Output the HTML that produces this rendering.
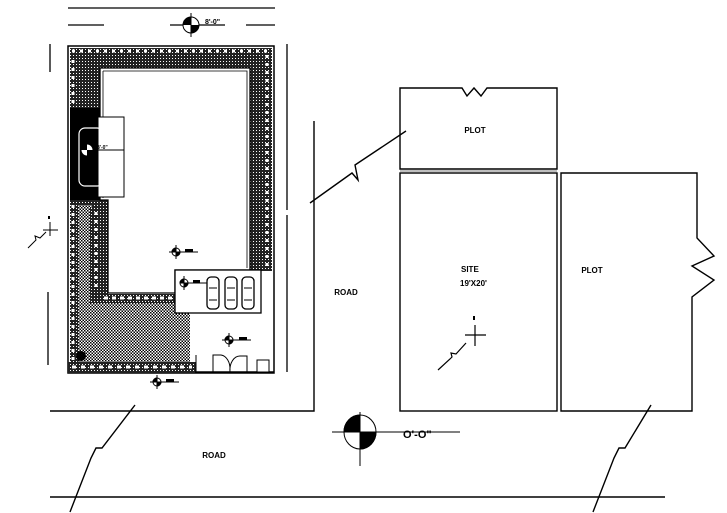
<!DOCTYPE html>
<html><head><meta charset="utf-8"><style>
html,body{margin:0;padding:0;background:#fff;}
svg{display:block;}
text{font-family:"Liberation Sans",sans-serif;font-weight:bold;}
</style></head><body>
<svg width="727" height="513" viewBox="0 0 727 513" xmlns="http://www.w3.org/2000/svg">
<defs>
<pattern id="chk" width="3" height="3" patternUnits="userSpaceOnUse">
<rect width="3" height="3" fill="#fff"/><rect width="1.5" height="1.5" fill="#000"/><rect x="1.5" y="1.5" width="1.5" height="1.5" fill="#000"/>
</pattern>
<pattern id="dk" width="3" height="3" patternUnits="userSpaceOnUse">
<rect width="3" height="3" fill="#222"/><rect x="1" y="1" width="1" height="1" fill="#fff"/>
</pattern>
</defs>
<g stroke="#000" fill="none" stroke-width="1.3">
<line x1="68" y1="8" x2="275" y2="8"/>
<line x1="68" y1="25" x2="104" y2="25"/><line x1="246" y1="25" x2="275" y2="25"/>
<line x1="170" y1="25" x2="225" y2="25"/>
<line x1="50" y1="44" x2="50" y2="72"/>
<line x1="287" y1="44" x2="287" y2="210"/>
<line x1="48" y1="292" x2="48" y2="365"/>
<line x1="287" y1="215" x2="287" y2="372"/>
</g>
<g transform="translate(191,25)">
<circle r="8" fill="#fff" stroke="#000"/>
<path d="M0,-8 A8,8 0 0,0 -8,0 L0,0Z" fill="#000"/>
<path d="M0,8 A8,8 0 0,0 8,0 L0,0Z" fill="#000"/>
<line x1="0" y1="-12" x2="0" y2="12" stroke="#000"/>
</g>
<text x="205" y="24" font-size="7">8'-0"</text>

<rect x="68" y="46" width="206" height="327" fill="#fff" stroke="#000" stroke-width="1.5"/>
<rect x="70" y="48" width="202" height="20" fill="url(#dk)"/>
<rect x="70" y="48" width="30" height="62" fill="url(#dk)"/>
<rect x="250" y="48" width="22" height="223" fill="url(#dk)"/>
<rect x="70" y="108" width="30" height="92" fill="#000"/>
<g stroke="#fff" stroke-width="3" stroke-dasharray="3 5">
<line x1="72" y1="51" x2="272" y2="51"/>
<line x1="73" y1="60" x2="73" y2="105"/>
<line x1="267" y1="55" x2="267" y2="270"/>
</g>
<!-- lower-left garden -->
<rect x="70" y="200" width="38" height="173" fill="url(#dk)"/>
<rect x="78" y="205" width="14" height="157" fill="url(#chk)"/>
<rect x="78" y="300" width="112" height="62" fill="url(#chk)"/>
<rect x="90" y="208" width="13" height="88" fill="url(#dk)"/>
<g stroke="#fff" stroke-width="3" stroke-dasharray="3 5">
<line x1="73" y1="205" x2="73" y2="368"/>
<line x1="96" y1="212" x2="96" y2="292"/>
</g>
<!-- inner room -->
<path d="M100,68 H250 V270 H175 V293 H108 V200 H100 Z" fill="#fff" stroke="#000" stroke-width="1.3"/>
<path d="M103,71 H247 V268" fill="none" stroke="#000" stroke-width="0.8"/>
<line x1="103" y1="71" x2="103" y2="198" stroke="#000" stroke-width="0.8"/>
<rect x="90" y="294" width="86" height="9" fill="url(#dk)"/>
<line x1="104" y1="298" x2="174" y2="298" stroke="#fff" stroke-width="3" stroke-dasharray="4 4"/>
<!-- tank box -->
<rect x="98" y="117" width="26" height="80" fill="#fff" stroke="#000"/>
<rect x="79" y="128" width="24" height="58" rx="6" fill="none" stroke="#fff" stroke-width="1.2"/>
<line x1="80" y1="150" x2="124" y2="150" stroke="#000"/>
<g transform="translate(87,150)"><circle r="6" fill="#fff" stroke="#000"/><path d="M0,-6 A6,6 0 0,0 -6,0 L0,0Z"/><path d="M0,6 A6,6 0 0,0 6,0 L0,0Z"/></g>
<text x="97" y="149" font-size="5">8'-0"</text>
<rect x="68" y="362" width="128" height="11" fill="url(#dk)"/>
<line x1="72" y1="367" x2="192" y2="367" stroke="#fff" stroke-width="3" stroke-dasharray="4 5"/>
<circle cx="81" cy="356" r="5" fill="#000"/>
<line x1="195" y1="372" x2="274" y2="372" stroke="#000" stroke-width="1.5"/>
<line x1="196" y1="355" x2="196" y2="373" stroke="#000"/>
<path d="M213,372 V355 H221 A10,14 0 0,1 230,370 M230,372 A10,14 0 0,1 240,356 H247 V372" fill="none" stroke="#000"/>
<rect x="257" y="360" width="12" height="12" fill="#fff" stroke="#000"/>
<!-- parking box -->
<rect x="175" y="270" width="86" height="43" fill="#fff" stroke="#000" stroke-width="1.3"/>
<g fill="#fff" stroke="#000" stroke-width="1.3">
<rect x="207" y="277" width="12" height="32" rx="4"/>
<rect x="225" y="277" width="12" height="32" rx="4"/>
<rect x="242" y="277" width="12" height="32" rx="4"/>
</g>
<g stroke="#000" stroke-width="1"><line x1="209" y1="288" x2="217" y2="288"/><line x1="227" y1="288" x2="235" y2="288"/><line x1="244" y1="288" x2="252" y2="288"/>
<line x1="209" y1="300" x2="217" y2="300"/><line x1="227" y1="300" x2="235" y2="300"/><line x1="244" y1="300" x2="252" y2="300"/>
<line x1="184" y1="283" x2="207" y2="283"/></g>
<g stroke="#000" stroke-width="1">
<g transform="translate(184,283)"><circle r="4" fill="#fff"/><path d="M0,-4 A4,4 0 0,0 -4,0 L0,0Z" fill="#000"/><path d="M0,4 A4,4 0 0,0 4,0 L0,0Z" fill="#000"/><line y1="-7" y2="7"/></g>
<g transform="translate(176,252)"><circle r="4" fill="#fff"/><path d="M0,-4 A4,4 0 0,0 -4,0 L0,0Z" fill="#000"/><path d="M0,4 A4,4 0 0,0 4,0 L0,0Z" fill="#000"/><line y1="-7" y2="7"/><line x1="-7" x2="22"/></g>
<g transform="translate(229,340)"><circle r="4" fill="#fff"/><path d="M0,-4 A4,4 0 0,0 -4,0 L0,0Z" fill="#000"/><path d="M0,4 A4,4 0 0,0 4,0 L0,0Z" fill="#000"/><line y1="-7" y2="7"/><line x1="-7" x2="22"/></g>
<g transform="translate(157,382)"><circle r="4" fill="#fff"/><path d="M0,-4 A4,4 0 0,0 -4,0 L0,0Z" fill="#000"/><path d="M0,4 A4,4 0 0,0 4,0 L0,0Z" fill="#000"/><line y1="-7" y2="7"/><line x1="-7" x2="22"/></g>
</g>
<g fill="#000"><rect x="185" y="249" width="8" height="3"/><rect x="193" y="280" width="7" height="3"/><rect x="239" y="337" width="8" height="3"/><rect x="166" y="379" width="8" height="3"/></g>
<g stroke="#000" stroke-width="1"><line x1="43" y1="230" x2="58" y2="230"/><line x1="50" y1="222" x2="50" y2="236"/>
<path d="M28,248 L36,240 L35,236 L40,238 L46,232" fill="none"/></g>
<rect x="48" y="216" width="2" height="3" fill="#000"/>

<g stroke="#000" fill="none" stroke-width="1.4">
<path d="M314,121 V411 H50"/>
<line x1="50" y1="497" x2="665" y2="497"/>
<path d="M135,405 L102,448 L96,448 L91,458 L70,512"/>
<path d="M651,405 L625,448 L619,448 L614,458 L593,512"/>
<path d="M310,203 L352,173 L358,180 L355,165 L406,131"/>
<path d="M400,88 H462 L467,96 L474,88 L481,96 L487,88 H557 V169 H400 Z"/>
<rect x="400" y="173" width="157" height="238"/>
<path d="M561,173 H697 V238 L714,256 L692,266 L714,280 L692,297 V411 H561 Z"/>
<line x1="400" y1="171" x2="557" y2="171" stroke-width="0.6"/>
</g>
<g stroke="#000" stroke-width="1.2" fill="none"><line x1="465" y1="335" x2="486" y2="335"/><line x1="475" y1="325" x2="475" y2="346"/>
<path d="M438,370 L450,359 L452,357 L451,353 L456,354 L466,343"/></g>
<rect x="473" y="316" width="2" height="4" fill="#000"/>
<text x="475" y="133" font-size="8" text-anchor="middle">PLOT</text>
<text x="592" y="273" font-size="8" text-anchor="middle">PLOT</text>
<text x="461" y="272" font-size="8">SITE</text>
<text x="460" y="286" font-size="8" font-weight="normal">19'X20'</text>
<text x="346" y="295" font-size="8" text-anchor="middle">ROAD</text>
<text x="214" y="458" font-size="8" text-anchor="middle">ROAD</text>
<g transform="translate(360,432)" stroke="#000">
<ellipse rx="16" ry="17" fill="#fff" stroke-width="1"/>
<path d="M0,-17 A16,17 0 0,0 -16,0 L0,0Z" fill="#000"/>
<path d="M0,17 A16,17 0 0,0 16,0 L0,0Z" fill="#000"/>
<line y1="-20" y2="34"/><line x1="-28" x2="100" y1="0" y2="0"/>
</g>
<text x="403" y="438" font-size="11" font-weight="normal">O'-O"</text>
</svg>
</body></html>
